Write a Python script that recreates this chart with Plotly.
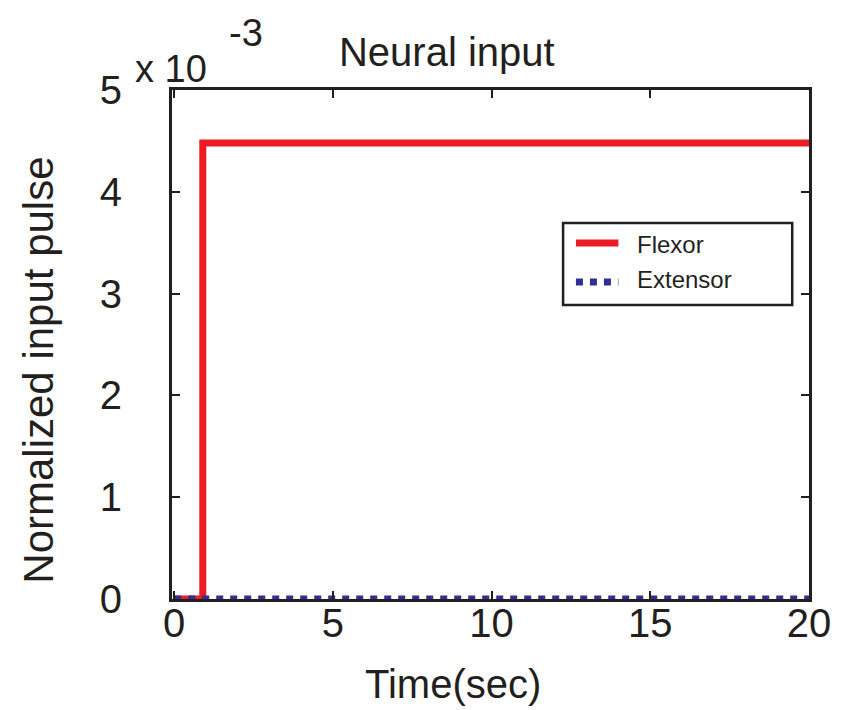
import plotly.graph_objects as go

# Neural input pulses (time in seconds, normalized amplitude)
flexor_t = [0.0, 0.9, 0.9, 20.0]
flexor_u = [0.0, 0.0, 4.48e-3, 4.48e-3]
extensor_t = [0.0, 20.0]
extensor_u = [0.0, 0.0]

x_ticks = [0, 5, 10, 15, 20]
y_ticks = [0, 1e-3, 2e-3, 3e-3, 4e-3, 5e-3]
y_tick_text = ["0", "1", "2", "3", "4", "5"]
series_names = ["Flexor", "Extensor"]

RED = "#ed1c24"
BLUE = "#2e3192"
INK = "#231f20"
FONT = "Liberation Sans, Arial, sans-serif"

# plot area in pixels
L, R, T, B = 172, 817, 90, 599
W, H = R - L, B - T


def px(x):
    return (x - L) / W


def py(y):
    return (B - y) / H


fig = go.Figure()
fig.add_trace(go.Scatter(x=flexor_t, y=flexor_u, mode="lines", name=series_names[0],
                         line=dict(color=RED, width=7), showlegend=False))
fig.add_trace(go.Scatter(x=extensor_t, y=extensor_u, mode="lines", name=series_names[1],
                         line=dict(color=BLUE, width=7, dash="dot"), showlegend=False))

axis_common = dict(showline=True, linecolor=INK, linewidth=3, mirror="allticks",
                   ticks="inside", ticklen=8, tickwidth=2, tickcolor=INK,
                   showgrid=False, zeroline=False,
                   tickfont=dict(family=FONT, size=40, color=INK))

fig.update_layout(
    width=843, height=710,
    margin=dict(l=L, r=843 - R, t=T, b=710 - B),
    paper_bgcolor="white", plot_bgcolor="white",
    font=dict(family=FONT, color=INK),
    title=dict(text="Neural input", x=0.530, xanchor="center", y=0.927, yanchor="middle",
               font=dict(family=FONT, size=40, color=INK)),
    xaxis=dict(range=[-0.07, 20], tickvals=x_ticks, ticklabelstandoff=-13,
               **axis_common),
    yaxis=dict(range=[0, 5e-3], tickvals=y_ticks, ticktext=y_tick_text,
               ticklabelstandoff=39, **axis_common),
    showlegend=False,
)

# Axis titles
fig.add_annotation(xref="paper", yref="paper", x=px(457), y=py(684),
                   xanchor="center", yanchor="middle", text="Time(sec)", showarrow=False,
                   font=dict(family=FONT, size=40, color=INK))
fig.add_annotation(xref="paper", yref="paper", x=px(37), y=py(370),
                   xanchor="center", yanchor="middle", text="Normalized input pulse",
                   textangle=-90, showarrow=False,
                   font=dict(family=FONT, size=42, color=INK))

# Legend frame
fig.add_shape(type="rect", xref="paper", yref="paper",
              x0=px(568), x1=px(800), y0=py(305), y1=py(223),
              line=dict(color=INK, width=2.5), fillcolor="rgba(0,0,0,0)")
# Legend keys and labels
legend_rows = [(243, 245, RED, "solid"), (282, 279, BLUE, "dot")]
for name, (ly, ty, col, dash) in zip(series_names, legend_rows):
    fig.add_shape(type="line", xref="paper", yref="paper",
                  x0=px(581), x1=px(624), y0=py(ly), y1=py(ly),
                  line=dict(color=col, width=7, dash=dash))
    fig.add_annotation(xref="paper", yref="paper", x=px(641), y=py(ty),
                       xanchor="left", yanchor="middle", text=name, showarrow=False,
                       font=dict(family=FONT, size=24, color=INK))

# Axis exponent
fig.add_annotation(xref="paper", yref="paper", x=px(133), y=py(69), xanchor="left",
                   yanchor="middle", text="x 10", showarrow=False,
                   font=dict(family=FONT, size=38, color=INK))
fig.add_annotation(xref="paper", yref="paper", x=px(228), y=py(33), xanchor="left",
                   yanchor="middle", text="-3", showarrow=False,
                   font=dict(family=FONT, size=38, color=INK))

fig.write_html("out.html")
